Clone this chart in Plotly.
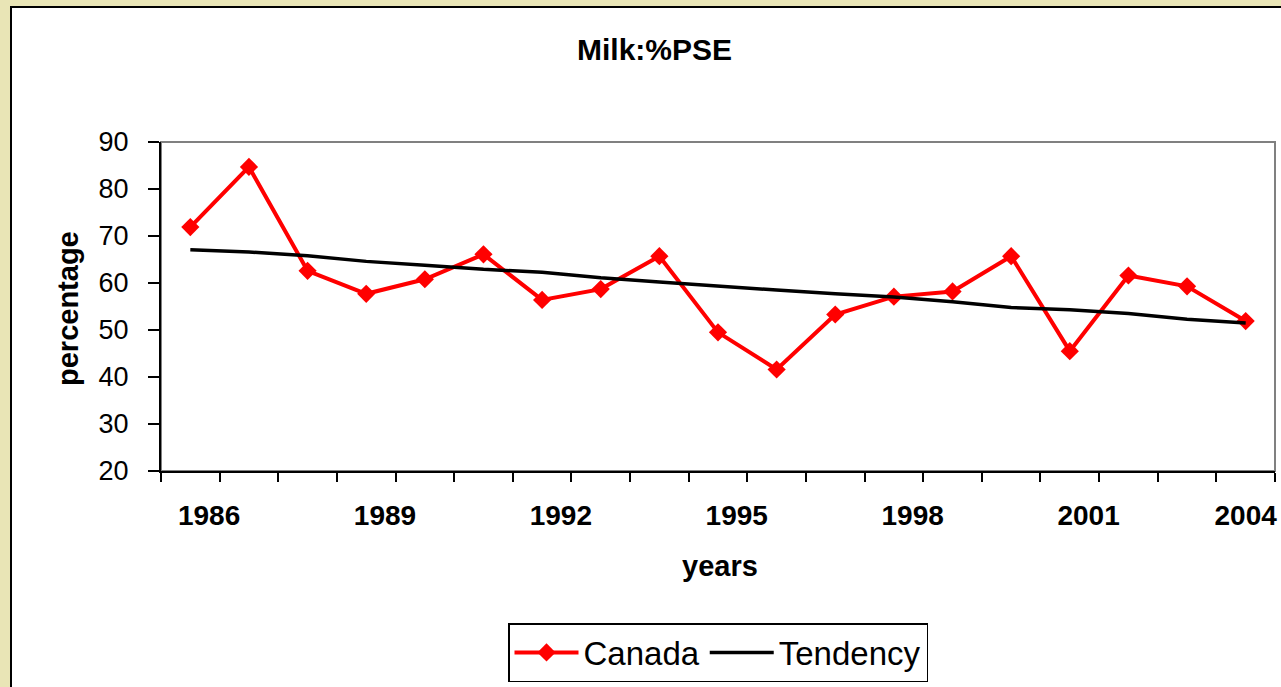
import plotly.graph_objects as go

years = list(range(1986, 2005))
canada = [71.9, 84.7, 62.6, 57.7, 60.8, 66.1, 56.4, 58.7, 65.7, 49.5,
          41.6, 53.3, 57.1, 58.2, 65.7, 45.5, 61.6, 59.3, 51.9]
tendency = [67.1, 66.6, 65.8, 64.6, 63.8, 62.9, 62.3, 61.1, 60.2, 59.3,
            58.5, 57.7, 57.0, 56.0, 54.8, 54.3, 53.5, 52.3, 51.5]
label_years = [1986, 1989, 1992, 1995, 1998, 2001, 2004]
y_ticks = [20, 30, 40, 50, 60, 70, 80, 90]

W, H = 1281, 687
L, R, T, B = 161, 6, 142, 216
PW, PH = W - L - R, H - T - B

def px_x(px):
    return (px - L) / PW

def px_y(py):
    return (H - B - py) / PH

FONT = "Arial, Liberation Sans, sans-serif"

fig = go.Figure()
fig.add_trace(go.Scatter(
    x=years, y=canada, name="Canada", mode="lines+markers",
    line=dict(color="#FF0000", width=4),
    marker=dict(symbol="diamond", size=14, color="#FF0000"),
))
fig.add_trace(go.Scatter(
    x=years, y=tendency, name="Tendency", mode="lines",
    line=dict(color="#000000", width=3.5),
))

# label offset within category (Excel-style placement)
tickvals = [y + 0.32 for y in label_years[:-1]] + [label_years[-1]]

fig.update_layout(
    width=W, height=H,
    margin=dict(l=L, r=R, t=T, b=B, autoexpand=False),
    paper_bgcolor="#E9E5B6",
    plot_bgcolor="#FFFFFF",
    font=dict(family=FONT, color="#000000"),
    showlegend=True,
    legend=dict(
        orientation="h", x=0.5, xanchor="center", y=px_y(623), yanchor="top",
        bgcolor="#FFFFFF", bordercolor="#000000", borderwidth=1.5,
        font=dict(size=33, family=FONT), itemwidth=64,
    ),
    xaxis=dict(
        range=[1985.5, 2004.5], tickvals=tickvals,
        ticktext=[str(y) for y in label_years],
        ticks="", showgrid=False, zeroline=False,
        showline=True, linecolor="#000000", linewidth=2,
        tickfont=dict(size=28, family=FONT, weight="bold"),
        ticklabelstandoff=18,
        minor=dict(tick0=1985.5, dtick=1, ticks="outside", ticklen=9,
                   tickwidth=2, tickcolor="#000000", showgrid=False),
    ),
    yaxis=dict(
        range=[20, 90], tickvals=y_ticks, ticks="outside", ticklen=11,
        tickwidth=2, tickcolor="#000000", showgrid=False, zeroline=False,
        showline=True, linecolor="#000000", linewidth=2,
        tickfont=dict(size=27, family=FONT), ticklabelstandoff=14,
    ),
    shapes=[
        dict(type="rect", xref="paper", yref="paper",
             x0=px_x(11), x1=px_x(W + 20), y0=px_y(H + 20), y1=px_y(7),
             line=dict(color="#000000", width=2), fillcolor="#FFFFFF",
             layer="below"),
        dict(type="rect", xref="paper", yref="paper",
             x0=0, x1=1, y0=0, y1=1,
             line=dict(color="#808080", width=2), layer="below"),
    ],
    annotations=[
        dict(text="<b>Milk:%PSE</b>", xref="paper", yref="paper",
             x=px_x(654), y=px_y(49), xanchor="center", yanchor="middle",
             showarrow=False, font=dict(size=30, family=FONT)),
        dict(text="<b>percentage</b>", xref="paper", yref="paper",
             x=px_x(68), y=px_y(309), xanchor="center", yanchor="middle",
             textangle=-90, showarrow=False, font=dict(size=29, family=FONT)),
        dict(text="<b>years</b>", xref="paper", yref="paper",
             x=px_x(720), y=px_y(566), xanchor="center", yanchor="middle",
             showarrow=False, font=dict(size=29, family=FONT)),
    ],
)

fig.write_html(
    "out.html",
    config={"displayModeBar": False},
    post_script="document.body.style.margin='0';document.body.style.overflow='hidden';",
)
